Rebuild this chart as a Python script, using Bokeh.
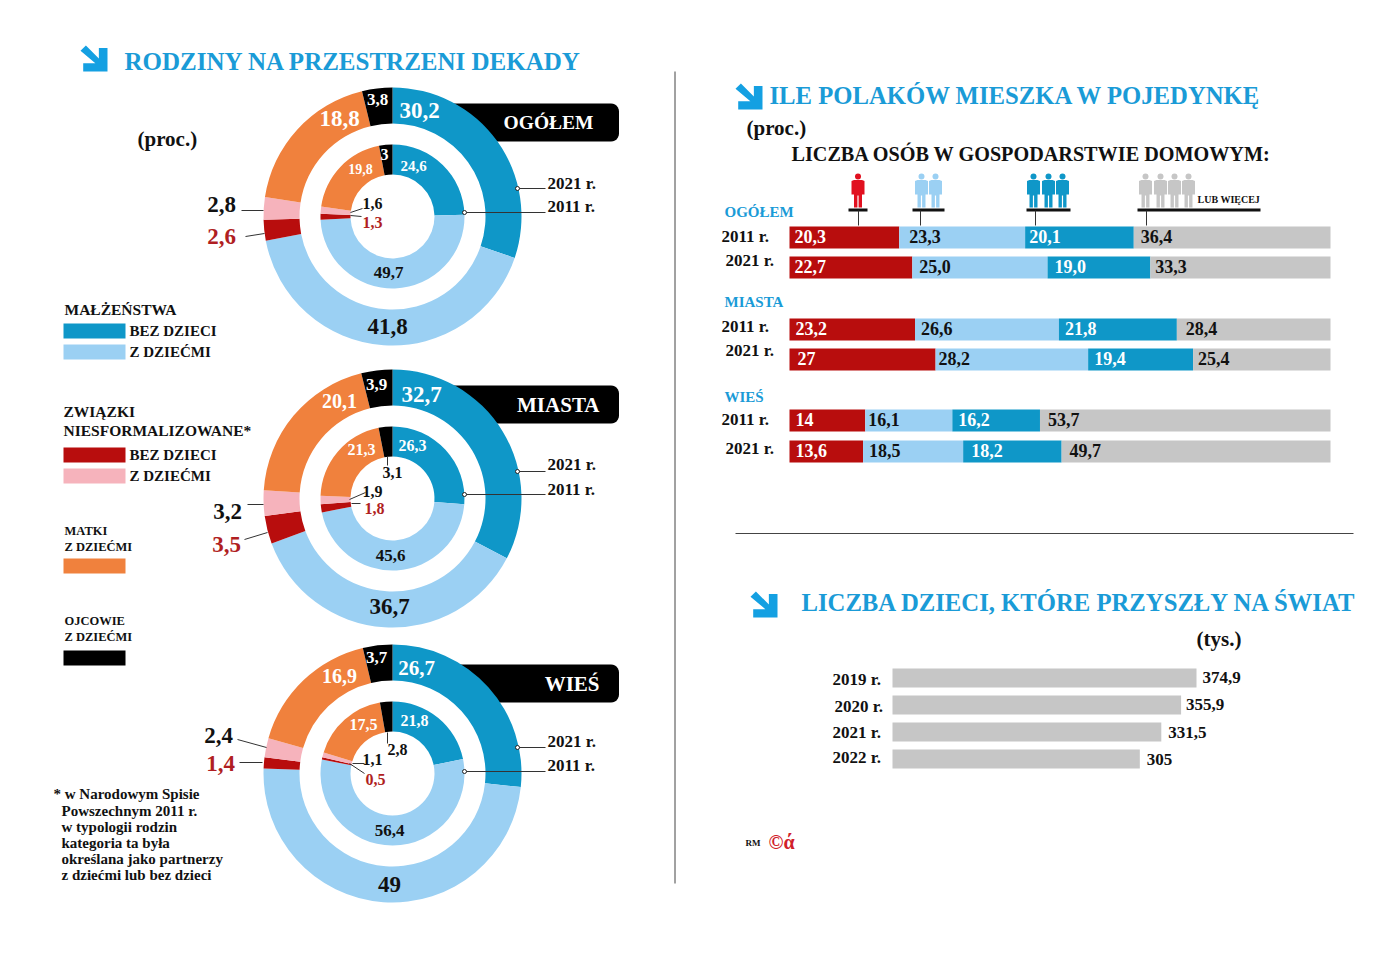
from bokeh.plotting import figure
from bokeh.models import Range1d
from bokeh.embed import file_html
from bokeh.resources import INLINE
import numpy as np

# ---------- data ----------
DONUT_CATEGORIES = ["małżeństwa bez dzieci", "małżeństwa z dziećmi", "związki bez dzieci",
                    "związki z dziećmi", "matki z dziećmi", "ojcowie z dziećmi"]
OGOLEM_2021 = [30.2, 41.8, 2.6, 2.8, 18.8, 3.8]
OGOLEM_2011 = [24.6, 49.7, 1.3, 1.6, 19.8, 3]
MIASTA_2021 = [32.7, 36.7, 3.5, 3.2, 20.1, 3.9]
MIASTA_2011 = [26.3, 45.6, 1.8, 1.9, 21.3, 3.1]
WIES_2021 = [26.7, 49, 1.4, 2.4, 16.9, 3.7]
WIES_2011 = [21.8, 56.4, 0.5, 1.1, 17.5, 2.8]

HH_OGOLEM_2011 = [20.3, 23.3, 20.1, 36.4]
HH_OGOLEM_2021 = [22.7, 25.0, 19.0, 33.3]
HH_MIASTA_2011 = [23.2, 26.6, 21.8, 28.4]
HH_MIASTA_2021 = [27, 28.2, 19.4, 25.4]
HH_WIES_2011 = [14, 16.1, 16.2, 53.7]
HH_WIES_2021 = [13.6, 18.5, 18.2, 49.7]

BIRTH_YEARS = ["2019 r.", "2020 r.", "2021 r.", "2022 r."]
BIRTHS = [374.9, 355.9, 331.5, 305]

# ---------- style / layout ----------
SERIF = "Liberation Serif"
TEAL, SKY, DKRED, PINK, ORANGE, BLACK, GRAY = "#0F97C8", "#9BD0F3", "#B80D0D", "#F6B3BC", "#F0813D", "#000000", "#C6C6C6"
DONUT_COLORS = [TEAL, SKY, DKRED, PINK, ORANGE, BLACK]
TITLE_BLUE, RED_TEXT, INK = "#1A9BD7", "#B01E22", "#111111"

W, H = 1384, 942
def Y(v):
    return 958 - v

p = figure(width=W, height=H, x_range=Range1d(0, W), y_range=Range1d(958 - H, 958),
           x_axis_type=None, y_axis_type=None, toolbar_location=None, output_backend="svg",
           min_border=0, outline_line_color=None, background_fill_color="white")
p.grid.visible = False

BAR_X0, BAR_X1 = 789, 1330
k = 100 / (BAR_X1 - BAR_X0)
BIRTH_X0, BIRTH_X1 = 892, 1196
kb = max(BIRTHS) / (BIRTH_X1 - BIRTH_X0)
p.extra_x_ranges = {
    "share": Range1d((0 - BAR_X0) * k, (W - BAR_X0) * k),
    "births": Range1d((0 - BIRTH_X0) * kb, (W - BIRTH_X0) * kb),
}

def fmt(v, dec=None):
    if dec is not None:
        return f"{v:.{dec}f}".replace(".", ",")
    return (f"{v:g}").replace(".", ",")

def T(x, y, s, size, color=INK, align="left", font=SERIF, **kw):
    p.text([x - 1], [Y(y - 1)], text=[s], text_font=font, text_font_size=f"{size}px", text_font_style="bold",
           text_color=color, text_align=align, text_baseline="middle", **kw)

def L(x0, y0, x1, y1, color="#333333", w=1.0):
    p.line([x0, x1], [Y(y0), Y(y1)], line_color=color, line_width=w)

def rect(x0, y0, x1, y1, color):
    p.quad(left=[x0], right=[x1], top=[Y(y0)], bottom=[Y(y1)], fill_color=color, line_color=None)

ARROW = [(0.68, 0.1), (1, 0.1), (1, 1), (0.1, 1), (0.1, 0.68), (0.55, 0.68), (0, 0.2), (0.2, 0), (0.68, 0.5)]
def arrow(x, y, w, h):
    p.patch([x + a * w for a, b in ARROW], [Y(y + b * h) for a, b in ARROW], fill_color="#14A0E2", line_color=None)

PERSON = [(-6.5, 7.5), (-4, 6.5), (4, 6.5), (6.5, 7.5), (6.5, 21), (4, 21), (4, 34), (0.6, 34), (0.6, 22), (-0.6, 22),
          (-0.6, 34), (-4, 34), (-4, 21), (-6.5, 21)]
def person(cx, top, color):
    p.patch([cx + a for a, b in PERSON], [Y(top + b) for a, b in PERSON], fill_color=color, line_color=None)
    p.circle([cx], [Y(top + 3)], radius=3, fill_color=color, line_color=None)

def ribbon(x0, y0, x1, y1, r=8):
    a = np.linspace(np.pi / 2, 0, 7)
    b = np.linspace(0, -np.pi / 2, 7)
    xs = [x0] + list(x1 - r + r * np.cos(a)) + list(x1 - r + r * np.cos(b)) + [x0]
    ys = [Y(y0)] + list(Y(y0 + r) + r * np.sin(a)) + list(Y(y1 - r) + r * np.sin(b)) + [Y(y1)]
    p.patch(xs, ys, fill_color="black", line_color=None)

RING_OUT = (93, 129)
RING_IN = (42, 72)
def ring(cx, cy, vals, radii):
    v = np.array(vals, dtype=float)
    c = np.concatenate([[0], np.cumsum(v)]) / v.sum()
    ang = np.pi / 2 - c * 2 * np.pi
    for i in range(len(v)):
        p.annular_wedge([cx], [Y(cy)], inner_radius=radii[0], outer_radius=radii[1],
                        start_angle=ang[i], end_angle=ang[i + 1], direction="clock",
                        fill_color=DONUT_COLORS[i], line_color=None)

# Layout of each donut's value labels follows DONUT_CATEGORIES order: (x, y, size, color)
CX = 392
DONUTS = [
    dict(cy=216, name="OGÓŁEM", nsize=19.5, rx=450, rib=(103, 141), out=OGOLEM_2021, inn=OGOLEM_2011,
         ylab=(184, 207), yl=(188, 212),
         out_lab=[(420, 111, 23, "white"), (388, 327, 23, INK), (222, 237, 23, RED_TEXT), (222, 205, 23, INK), (340, 119, 23, "white"), (378, 100, 17, "white")],
         in_lab=[(414, 166, 15, "white"), (389, 273, 17, INK), (373, 223, 16, RED_TEXT), (373, 204, 16, INK), (361, 169, 14, "white"), (385, 155, 16, "white")],
         lead=[(241, 210, 263, 210), (245, 236, 264, 233), (350, 212, 362, 208), (350, 215, 361, 216)]),
    dict(cy=498, name="MIASTA", nsize=21, rx=450, rib=(385, 423), out=MIASTA_2021, inn=MIASTA_2011,
         ylab=(465, 490), yl=(471, 494),
         out_lab=[(422, 395, 23, "white"), (390, 607, 23, INK), (227, 545, 23, RED_TEXT), (228, 512, 23, INK), (340, 401, 20, "white"), (377, 385, 17, "white")],
         in_lab=[(413, 446, 16, "white"), (391, 556, 17, INK), (375, 509, 16, RED_TEXT), (373, 492, 16, INK), (362, 450, 16, "white"), (393, 473, 16, INK)],
         lead=[(247, 504, 263, 504), (244, 539, 267, 532), (349, 499, 365, 492), (351, 503, 360, 503), (387, 456, 387, 465)]),
    dict(cy=773, name="WIEŚ", nsize=21, rx=458, rib=(664, 702), out=WIES_2021, inn=WIES_2011,
         ylab=(742, 766), yl=(747, 771),
         out_lab=[(417, 668, 21, "white"), (390, 885, 23, INK), (221, 764, 23, RED_TEXT), (219, 736, 23, INK), (340, 676, 20, "white"), (377, 658, 17, "white")],
         in_lab=[(415, 721, 16, "white"), (390, 831, 17, INK), (376, 780, 16, RED_TEXT), (373, 760, 16, INK), (364, 725, 16, "white"), (398, 750, 16, INK)],
         lead=[(237, 739, 266, 747), (239, 762, 262, 762), (352, 763, 364, 763), (349, 763, 364, 773), (387, 732, 387, 743)]),
]

for d in DONUTS:
    ribbon(d["rx"], d["rib"][0], 618.5, d["rib"][1])
    ring(CX, d["cy"], d["out"], RING_OUT)
    ring(CX, d["cy"], d["inn"], RING_IN)
    T(600 if d["name"] != "OGÓŁEM" else 594, sum(d["rib"]) / 2 + 1, d["name"], d["nsize"], "white", "right")
    for v, (x, y, s, c) in zip(d["out"], d["out_lab"]):
        T(x, y, fmt(v), s, c, "center")
    for v, (x, y, s, c) in zip(d["inn"], d["in_lab"]):
        T(x, y, fmt(v), s, c, "center")
    for seg in d["lead"]:
        L(*seg)
    L(517, d["yl"][0], 545, d["yl"][0])
    L(464, d["yl"][1], 545, d["yl"][1])
    p.circle([517, 464], [Y(d["yl"][0]), Y(d["yl"][1])], radius=2, fill_color="white", line_color="#222222", line_width=1)
    T(548, d["ylab"][0], "2021 r.", 17)
    T(548, d["ylab"][1], "2011 r.", 17)

# left header + legends
arrow(80, 45, 27, 26)
T(125, 62, "RODZINY NA PRZESTRZENI DEKADY", 25, TITLE_BLUE)
T(138, 139, "(proc.)", 21)
T(65, 310, "MAŁŻEŃSTWA", 15.5)
rect(63, 323, 125, 338, TEAL); T(130, 331, "BEZ DZIECI", 15)
rect(63, 344, 125, 359, SKY); T(130, 352, "Z DZIEĆMI", 15)
T(64, 412, "ZWIĄZKI", 15.5)
T(64, 431, "NIESFORMALIZOWANE*", 15.5)
rect(63, 447, 125, 462, DKRED); T(130, 455, "BEZ DZIECI", 15)
rect(63, 468, 125, 483, PINK); T(130, 476, "Z DZIEĆMI", 15)
T(65, 531, "MATKI", 12.5); T(65, 547, "Z DZIEĆMI", 12.5)
rect(63, 558, 125, 573, ORANGE)
T(65, 621, "OJCOWIE", 12.5); T(65, 637, "Z DZIEĆMI", 12.5)
rect(63, 650, 125, 665, BLACK)
for (x, y, s) in [(54, 794, "* w Narodowym Spisie"), (62, 811, "Powszechnym 2011 r."), (62, 827, "w typologii rodzin"),
                  (62, 843, "kategoria ta była"), (62, 859, "określana jako partnerzy"), (62, 875, "z dziećmi lub bez dzieci")]:
    T(x, y, s, 15)

# dividers
L(674.5, 71, 674.5, 883, "#444444", 1)
L(735, 533, 1353, 533, "#444444", 1)

# right top
arrow(735, 83, 27, 26)
T(770, 96, "ILE POLAKÓW MIESZKA W POJEDYNKĘ", 24.7, TITLE_BLUE)
T(747, 128, "(proc.)", 21)
T(792, 154, "LICZBA OSÓB W GOSPODARSTWIE DOMOWYM:", 20.2, INK)

ICON_GROUPS = [("#E1101F", [857.5], (848, 867), 858),
               (SKY, [921, 935], (912, 944), 920),
               (TEAL, [1033, 1048, 1062], (1026, 1070), 1035),
               (GRAY, [1145, 1160, 1174, 1188], (1137, 1260), 1146)]
for col, xs, (a, b), drop in ICON_GROUPS:
    for x in xs:
        person(x, 173, col)
    L(a, 209.5, b, 209.5, "#111111", 3)
    L(drop, 210, drop, 225, "#333333", 1)
T(1198, 200, "LUB WIĘCEJ", 10)

BAR_COLORS = [DKRED, SKY, TEAL, GRAY]
BAR_TEXT = ["white", INK, "white", INK]
SECTIONS = [("OGÓŁEM", 212), ("MIASTA", 302), ("WIEŚ", 397)]
for name, y in SECTIONS:
    T(725, y, name, 15, TITLE_BLUE)

ROWS = [
    (HH_OGOLEM_2011, "2011 r.", 237, (722, 237), [5, 10, 4, 7], None),
    (HH_OGOLEM_2021, "2021 r.", 267, (726, 261), [5, 7, 7, 5], 1),
    (HH_MIASTA_2011, "2011 r.", 329, (722, 327), [6, 6, 6, 9], None),
    (HH_MIASTA_2021, "2021 r.", 359, (726, 351), [8, 3, 6, 5], None),
    (HH_WIES_2011, "2011 r.", 420, (722, 420), [6, 3, 6, 8], None),
    (HH_WIES_2021, "2021 r.", 451, (726, 449), [6, 6, 8, 8], None),
]
for vals, yr, yc, (lx, ly), offs, dec in ROWS:
    v = np.array(vals, dtype=float)
    s = np.cumsum(v) / v.sum() * 100
    st = np.concatenate([[0], s[:-1]])
    p.hbar(y=[Y(yc)] * 4, left=st, right=s, height=22, fill_color=BAR_COLORS, line_color=None, x_range_name="share")
    p.text(st, [Y(yc)] * 4, text=[fmt(x, dec) for x in vals], x_offset=offs, y_offset=-1, x_range_name="share",
           text_font=SERIF, text_font_size="18px", text_font_style="bold", text_color=BAR_TEXT,
           text_align="left", text_baseline="middle")
    T(lx, ly, yr, 17)

# right bottom
arrow(750, 591, 27, 26)
T(802, 603, "LICZBA DZIECI, KTÓRE PRZYSZŁY NA ŚWIAT", 24.7, TITLE_BLUE)
T(1197, 639, "(tys.)", 21)
BIRTH_Y = [677.5, 704.5, 731.5, 758.5]
YEAR_POS = [(833, 680), (835, 707), (833, 733), (833, 758)]
VAL_OFF = [6, 5, 7, 7]
VAL_Y = [677, 704, 732, 759]
p.hbar(y=[Y(v) for v in BIRTH_Y], left=[0] * 4, right=BIRTHS, height=19, fill_color=GRAY, line_color=None, x_range_name="births")
p.text(BIRTHS, [Y(v) for v in VAL_Y], text=[fmt(v) for v in BIRTHS], x_offset=VAL_OFF, x_range_name="births",
       text_font=SERIF, text_font_size="17px", text_font_style="bold", text_color=INK, text_align="left", text_baseline="middle")
for yr, (x, y) in zip(BIRTH_YEARS, YEAR_POS):
    T(x, y, yr, 17)

T(746, 843, "RM", 9)
T(769, 842, "©ά", 20, "#D1202A")

open("out.html", "w").write(file_html(p, INLINE))
